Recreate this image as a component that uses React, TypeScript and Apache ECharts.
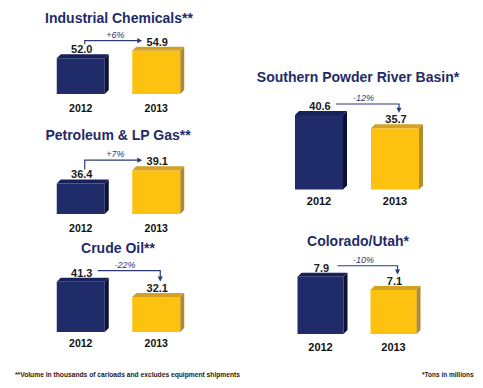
import React, { useEffect, useRef } from 'react';
import * as echarts from 'echarts';

const years = ['2012', '2013'];
const titles = ['Industrial Chemicals**', 'Petroleum & LP Gas**', 'Crude Oil**', 'Southern Powder River Basin*', 'Colorado/Utah*'];
const values2012 = [52.0, 36.4, 41.3, 40.6, 7.9];
const values2013 = [54.9, 39.1, 32.1, 35.7, 7.1];
const changeLabels = ['+6%', '+7%', '-22%', '-12%', '-10%'];
const axisMins = [38.5, 30.2, 11, 13, 4.45];
const axisMaxs = [58.5, 40.2, 41, 43, 8.45];
const footnoteLeft = '**Volume in thousands of carloads and excludes equipment shipments';
const footnoteRight = '*Tons in millions';

const layout = [
  { left: 43, width: 151, bottom: 94, ppu: 2.644, titleX: 119, titleY: 17.5, yearFs: 10.5, margin: 8, barW: 48 },
  { left: 43, width: 151, bottom: 214, ppu: 4.92, titleX: 118, titleY: 135, yearFs: 10.5, margin: 8, barW: 48 },
  { left: 43, width: 151, bottom: 332, ppu: 1.66, titleX: 118, titleY: 247.5, yearFs: 10.5, margin: 5, barW: 48 },
  { left: 281, width: 152, bottom: 189.5, ppu: 2.7, titleX: 358, titleY: 77, yearFs: 11, margin: 6, barW: 48 },
  { left: 284, width: 146, bottom: 334, ppu: 16.6, titleX: 358, titleY: 241, yearFs: 11, margin: 7, barW: 46 },
];

const FONT = '"Liberation Sans", Arial, sans-serif';
const NAVY = '#1f2b68';
const barColors = [
  { front: '#1f2c69', top: '#17225a', side: '#0b1233' },
  { front: '#fdc10f', top: '#d3a124', side: '#b38a2c' },
];
const ARROW = '#2c3a78';

export default function App() {
  const ref = useRef<HTMLDivElement>(null);
  useEffect(() => {
    if (!ref.current) return;
    const chart = echarts.init(ref.current, undefined, { renderer: 'svg' });
    const grids: any[] = [];
    const xAxes: any[] = [];
    const yAxes: any[] = [];
    const series: any[] = [];
    const graphics: any[] = [];

    layout.forEach((L, i) => {
      const h = (axisMaxs[i] - axisMins[i]) * L.ppu;
      grids.push({ left: L.left, top: L.bottom - h, width: L.width, height: h });
      xAxes.push({
        type: 'category', gridIndex: i, data: years,
        axisLine: { show: false }, axisTick: { show: false }, splitLine: { show: false },
        axisLabel: { fontFamily: FONT, fontWeight: 'bold', fontSize: L.yearFs, color: '#111', margin: L.margin },
      });
      yAxes.push({ type: 'value', gridIndex: i, min: axisMins[i], max: axisMaxs[i], show: false, splitLine: { show: false } });

      const minV = axisMins[i];
      series.push({
        type: 'custom', xAxisIndex: i, yAxisIndex: i, clip: false,
        data: [[0, values2012[i]], [1, values2013[i]]],
        renderItem: (params: any, api: any) => {
          const cat = api.value(0);
          const val = api.value(1);
          const p = api.coord([cat, val]);
          const b = api.coord([cat, minV]);
          const w = L.barW, d = 4;
          const x0 = p[0] - w / 2, x1 = p[0] + w / 2, yT = p[1], yB = b[1];
          const c = barColors[cat];
          return {
            type: 'group',
            children: [
              { type: 'rect', shape: { x: x0, y: yT, width: w, height: yB - yT }, style: { fill: c.front } },
              { type: 'polygon', shape: { points: [[x0, yT], [x0 + d, yT - d], [x1 + d, yT - d], [x1, yT]] }, style: { fill: c.top } },
              { type: 'polygon', shape: { points: [[x1, yT], [x1 + d, yT - d], [x1 + d, yB - d], [x1, yB]] }, style: { fill: c.side } },
              {
                type: 'text',
                style: {
                  text: val.toFixed(1), x: p[0] + 1, y: yT - 3.5, align: 'center', verticalAlign: 'bottom',
                  fontFamily: FONT, fontWeight: 'bold', fontSize: 11, fill: '#1a1a1a',
                },
              },
            ],
          };
        },
      });

      series.push({
        type: 'custom', xAxisIndex: i, yAxisIndex: i, clip: false,
        data: [[0, values2012[i], values2013[i]]],
        renderItem: (params: any, api: any) => {
          const v0 = api.value(1);
          const v1 = api.value(2);
          const p0 = api.coord([0, v0]);
          const p1 = api.coord([1, v1]);
          const l0 = p0[1] - 9;
          const l1 = p1[1] - 9;
          const lineStyle = { stroke: ARROW, lineWidth: 1.2, fill: 'none' };
          const children: any[] = [];
          let tx = 0, ty = 0;
          if (v1 >= v0) {
            const xv = p0[0] + 4;
            const hy = l1 - 1;
            const xe = p1[0] - 14;
            children.push({ type: 'polyline', shape: { points: [[xv, l0 - 5], [xv, hy], [xe - 4, hy]] }, style: lineStyle });
            children.push({ type: 'polygon', shape: { points: [[xe, hy], [xe - 5, hy - 2.6], [xe - 5, hy + 2.6]] }, style: { fill: ARROW } });
            tx = (xv + xe) / 2 + 2;
            ty = hy - 1.5;
          } else {
            const hy = l0 - 2;
            const xs = p0[0] + 17;
            const xd = p1[0] + 4;
            const ye = l1 - 6.5;
            children.push({ type: 'polyline', shape: { points: [[xs, hy], [xd, hy], [xd, ye - 4]] }, style: lineStyle });
            children.push({ type: 'polygon', shape: { points: [[xd, ye], [xd - 2.6, ye - 5], [xd + 2.6, ye - 5]] }, style: { fill: ARROW } });
            tx = (xs + xd) / 2 - 4;
            ty = hy - 1;
          }
          children.push({
            type: 'text',
            style: {
              text: changeLabels[i], x: tx, y: ty, align: 'center', verticalAlign: 'bottom',
              fontFamily: FONT, fontStyle: 'italic', fontSize: 9, fill: ARROW,
            },
          });
          return { type: 'group', children };
        },
      });

      graphics.push({
        type: 'text', x: L.titleX, y: L.titleY,
        style: { text: titles[i], align: 'center', verticalAlign: 'middle', fontFamily: FONT, fontWeight: 'bold', fontSize: 14, fill: NAVY },
      });
    });

    graphics.push({
      type: 'text', x: 15, y: 374,
      style: { text: footnoteLeft, align: 'left', verticalAlign: 'middle', fontFamily: FONT, fontWeight: 'bold', fontSize: 6.7, fill: '#222' },
    });
    graphics.push({
      type: 'text', x: 422, y: 374,
      style: { text: footnoteRight, align: 'left', verticalAlign: 'middle', fontFamily: FONT, fontWeight: 'bold', fontSize: 6.5, fill: '#222' },
    });

    chart.setOption({
      animation: false,
      backgroundColor: '#ffffff',
      grid: grids,
      xAxis: xAxes,
      yAxis: yAxes,
      series,
      graphic: graphics,
    });
    return () => chart.dispose();
  }, []);
  return <div ref={ref} style={{ position: 'absolute', left: 0, top: 0, width: 483, height: 388 }} />;
}
